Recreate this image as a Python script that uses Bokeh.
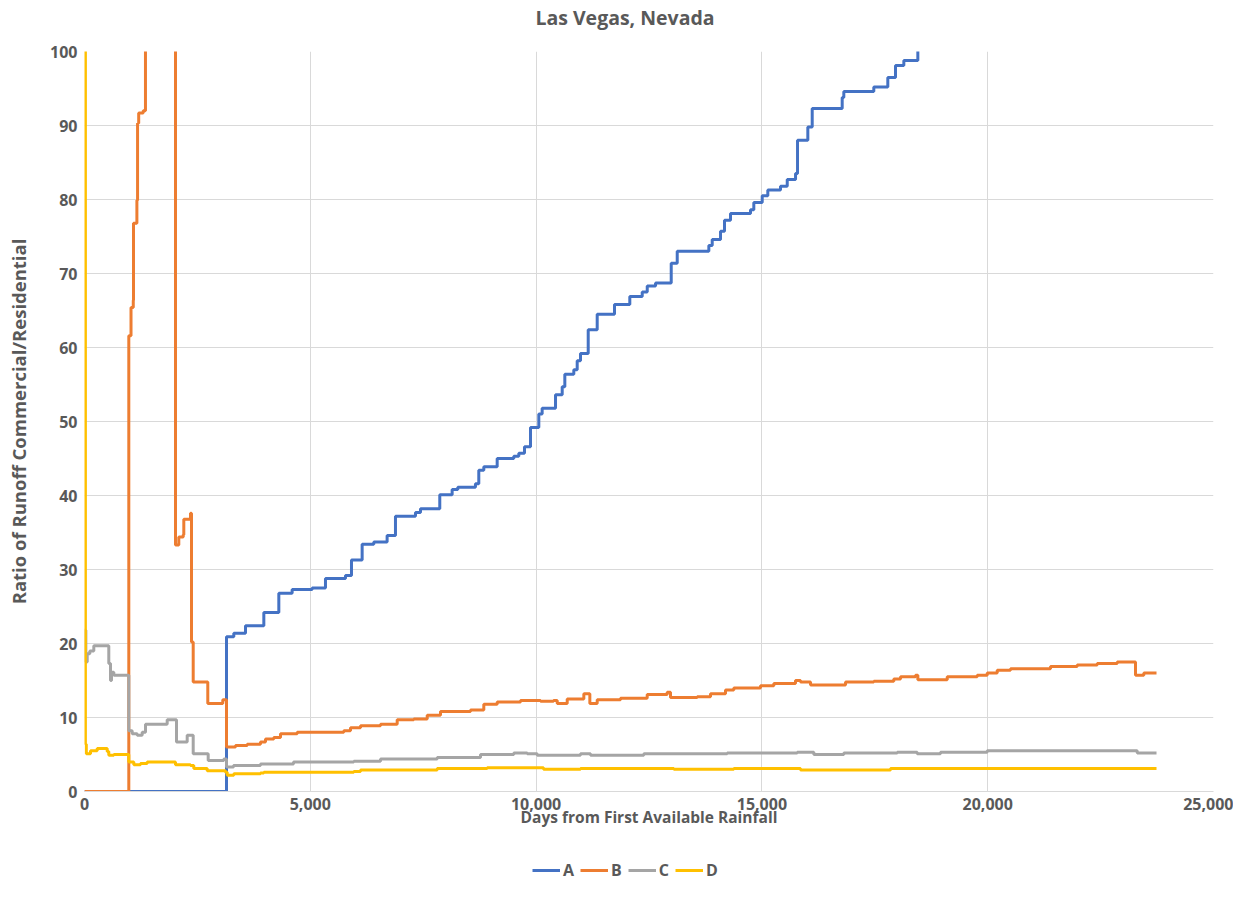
from bokeh.plotting import figure
from bokeh.layouts import column
from bokeh.models import Range1d, NumeralTickFormatter, FixedTicker, Legend, LegendItem, ColumnDataSource, Label
from bokeh.embed import file_html
from bokeh.resources import INLINE

# ---- data ----
A_days = [0, 3144, 3306, 3565, 3971, 4303, 4598, 5041, 5336, 5779, 5912, 6148, 6406, 6701, 6886, 7329, 7440, 7867, 8141, 8266,
          8657, 8731, 8842, 9138, 9506, 9617, 9743, 9876, 10060, 10134, 10430, 10578, 10636, 10835, 10910, 10983, 11154, 11353, 11736, 12075,
          12350, 12461, 12645, 12992, 13125, 13825, 13900, 14084, 14172, 14305, 14748, 14821, 15007, 15131, 15412, 15561, 15745, 15789, 16017, 16114,
          16778, 16814, 17478, 17788, 17959, 18143, 18453, 23738]
A_vals = [0, 20.9, 21.4, 22.4, 24.2, 26.8, 27.3, 27.5, 28.8, 29.2, 31.3, 33.4, 33.7, 34.6, 37.2, 37.7, 38.2, 40.1, 40.8, 41.1,
          41.6, 43.4, 43.9, 45.0, 45.3, 45.7, 46.6, 49.2, 51.0, 51.8, 53.6, 54.7, 56.4, 57.0, 58.2, 59.2, 62.4, 64.5, 65.8, 66.9,
          67.5, 68.3, 68.7, 71.4, 73.0, 73.8, 74.6, 75.7, 77.2, 78.1, 78.6, 79.6, 80.5, 81.3, 81.8, 82.7, 83.5, 88.0, 89.8, 92.3,
          93.8, 94.6, 95.2, 96.5, 98.1, 98.8, 101.5, 101.5]

B_days = [0, 981, 1030, 1080, 1085, 1160, 1175, 1200, 1300, 1350, 2015, 2088, 2186, 2199, 2347, 2369, 2407, 2730, 3062, 3144,
          3344, 3603, 3897, 4008, 4192, 4340, 4710, 5742, 5890, 6112, 6555, 6924, 7292, 7589, 7883, 8548, 8842, 9139, 9655, 10098,
          10386, 10468, 10689, 11057, 11190, 11353, 11869, 12460, 12903, 12976, 13568, 13862, 14194, 14378, 14969, 15264, 15744, 15855, 16077, 16852,
          17478, 17921, 18070, 18402, 18453, 19104, 19768, 19990, 20211, 20505, 21391, 21982, 22425, 22868, 23273, 23457, 23738]
B_vals = [0, 61.6, 65.4, 66.4, 76.8, 79.9, 90.3, 91.7, 92.0, 120, 33.3, 34.4, 34.7, 36.8, 37.6, 20.2, 14.8, 11.9, 12.4, 6.0,
          6.2, 6.4, 6.7, 7.1, 7.3, 7.8, 8.0, 8.2, 8.6, 8.9, 9.1, 9.7, 9.8, 10.3, 10.8, 11.0, 11.8, 12.1, 12.3, 12.2,
          12.3, 11.9, 12.5, 13.2, 11.9, 12.4, 12.6, 13.1, 13.4, 12.7, 12.8, 13.2, 13.7, 14.0, 14.3, 14.6, 15.0, 14.8, 14.4, 14.8,
          14.9, 15.2, 15.5, 15.7, 15.1, 15.5, 15.7, 16.0, 16.4, 16.6, 16.9, 17.1, 17.3, 17.5, 15.7, 16.0, 16.0]

C_days = [0, 30, 60, 117, 206, 538, 576, 598, 649, 981, 1056, 1167, 1278, 1351, 1831, 2037, 2274, 2407, 2739, 3085,
          3144, 3300, 3897, 4628, 5963, 6555, 7810, 8769, 9506, 9803, 10025, 10983, 11205, 12385, 14232, 15782, 16150, 16814, 17997, 18439,
          18955, 19989, 23229, 23311, 23738]
C_vals = [21.8, 17.5, 18.6, 19.0, 19.7, 17.3, 15.0, 16.1, 15.7, 8.2, 7.8, 7.6, 8.0, 9.1, 9.7, 6.7, 7.6, 5.1, 4.2, 4.4,
          3.3, 3.5, 3.7, 4.0, 4.1, 4.4, 4.6, 5.0, 5.2, 5.1, 4.9, 5.1, 4.9, 5.1, 5.2, 5.3, 5.0, 5.2, 5.3, 5.1,
          5.3, 5.5, 5.5, 5.2, 5.2]

D_days = [0, 20, 40, 133, 281, 503, 538, 649, 981, 1092, 1240, 1388, 2015, 2347, 2420, 2717, 3122, 3160, 3306, 3897,
          3971, 5963, 6112, 7810, 8917, 10164, 10983, 13050, 14378, 15855, 17848, 23738]
D_vals = [150, 6.4, 5.1, 5.5, 5.8, 5.4, 4.9, 5.0, 4.0, 3.6, 3.8, 4.0, 3.6, 3.5, 3.1, 2.8, 2.6, 2.2, 2.4, 2.5,
          2.6, 2.7, 2.9, 3.1, 3.2, 3.0, 3.1, 3.0, 3.1, 2.9, 3.1, 3.1]

series_names = ["A", "B", "C", "D"]
series_colors = ["#4472C4", "#ED7D31", "#A5A5A5", "#FFC000"]
x_ticks = [0, 5000, 10000, 15000, 20000, 25000]
y_ticks = [0, 10, 20, 30, 40, 50, 60, 70, 80, 90, 100]
title_text = "Las Vegas, Nevada"

TXT = "#595959"
FONT = "Open Sans"
W = 1233
LEFT, RIGHT = 84, 20
TOP_H, MAIN_H, LEG_H = 34, 821, 26

sources = [ColumnDataSource(dict(x=d, y=v)) for d, v in
           zip([A_days, B_days, C_days, D_days], [A_vals, B_vals, C_vals, D_vals])]


def bare_figure(h, y0):
    # column layouts align the frames with the main chart's frame (LEFT .. W-RIGHT),
    # so the x range is expressed in page pixels
    f = figure(width=W, height=h, output_backend="svg", toolbar_location=None,
               x_range=Range1d(LEFT, W - RIGHT), y_range=Range1d(y0, y0 + h),
               x_axis_type=None, y_axis_type=None,
               min_border_left=LEFT, min_border_right=RIGHT, min_border_top=0, min_border_bottom=0)
    f.outline_line_color = None
    f.background_fill_color = "white"
    f.border_fill_color = "white"
    f.grid.visible = False
    return f


# ---- title strip ----
top = bare_figure(TOP_H, 0)
top.add_layout(Label(x=624.5, y=TOP_H - 17, text=title_text, text_align="center", text_baseline="middle",
                     text_font=FONT, text_font_size="19.5px", text_font_style="bold", text_color=TXT))

# ---- main chart ----
main = figure(width=W, height=MAIN_H, output_backend="svg", toolbar_location=None,
              x_range=Range1d(0, 25000), y_range=Range1d(0, 100),
              min_border_left=LEFT, min_border_right=RIGHT, min_border_top=17, min_border_bottom=64)
main.background_fill_color = "white"
main.border_fill_color = "white"
main.outline_line_color = None

for src, col in zip(sources, series_colors):
    main.step(x="x", y="y", source=src, mode="after", line_width=3, line_color=col)

main.xaxis.ticker = FixedTicker(ticks=x_ticks)
main.yaxis.ticker = FixedTicker(ticks=y_ticks)
main.xaxis.formatter = NumeralTickFormatter(format="0,0")
for ax in (main.xaxis, main.yaxis):
    ax.major_tick_line_color = None
    ax.minor_tick_line_color = None
    ax.major_tick_out = 0
    ax.major_tick_in = 0
    ax.minor_tick_out = 0
    ax.major_label_text_font = FONT
    ax.major_label_text_font_size = "16px"
    ax.major_label_text_font_style = "bold"
    ax.major_label_text_color = TXT
    ax.axis_label_text_font = FONT
    ax.axis_label_text_font_style = "bold"
    ax.axis_label_text_color = TXT
main.xaxis.axis_label_text_font_size = "15.5px"
main.yaxis.axis_label_text_font_size = "18.5px"
main.xaxis.axis_line_color = "#D9D9D9"
main.yaxis.axis_line_color = None
main.xaxis.axis_label = "Days from First Available Rainfall"
main.yaxis.axis_label = "Ratio of Runoff Commercial/Residential"
main.xaxis.major_label_standoff = 6
main.xaxis.axis_label_standoff = -7
main.yaxis.major_label_standoff = 7
main.yaxis.axis_label_standoff = 16

main.xgrid.grid_line_color = "#D9D9D9"
main.ygrid.grid_line_color = "#D9D9D9"
main.xgrid.grid_line_width = 1
main.ygrid.grid_line_width = 1

# ---- legend strip (same series, drawn outside its visible range; only the legend shows) ----
leg = bare_figure(LEG_H, -500)
leg_renderers = [leg.step(x="x", y="y", source=src, mode="after", line_width=3, line_color=c)
                 for src, c in zip(sources, series_colors)]
legend = Legend(items=[LegendItem(label=n, renderers=[r]) for n, r in zip(series_names, leg_renderers)],
                orientation="horizontal", location=(532 - LEFT, 0))
legend.border_line_color = None
legend.background_fill_alpha = 0
legend.label_text_font = FONT
legend.label_text_font_size = "16px"
legend.label_text_font_style = "bold"
legend.label_text_color = TXT
legend.glyph_width = 28
legend.glyph_height = 16
legend.label_width = 0
legend.label_height = 0
legend.label_standoff = 3
legend.spacing = 6
legend.padding = 0
legend.margin = 0
leg.add_layout(legend)

p = column(top, main, leg, spacing=0)

open("out.html", "w").write(file_html(p, INLINE))
